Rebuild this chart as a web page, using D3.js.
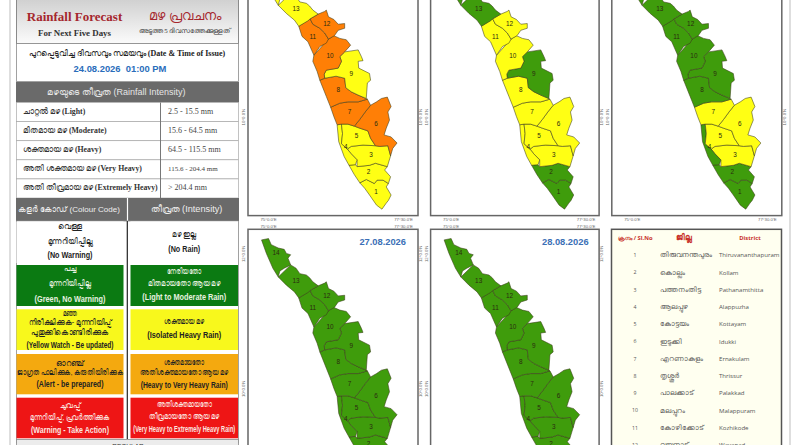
<!DOCTYPE html>
<html lang="ml">

<head>
    <meta charset="utf-8">
    <style>
        html, body { margin: 0; padding: 0; background: #fff; overflow: hidden; }
        svg { display: block; }
        .serif { font-family: 'Liberation Serif', 'DejaVu Serif', serif; }
        .sans { font-family: 'Liberation Sans', Arial, sans-serif; }
        .open { font-family: 'Open Sans', sans-serif; }
        .geo .domain { display: none; }
        .geo .tick text { font-family: 'Liberation Sans', sans-serif; font-size: 4.3px; fill: #666; }
    </style>
</head>

<body>
    <svg width="800" height="445" viewBox="0 0 800 445"></svg>
</body>

<script src="https://d3js.org/d3.v7.min.js"></script>

<script>
    // district numbers on the map, 1 to 14
    const districtNo = [1, 2, 3, 4, 5, 6, 7, 8, 9, 10, 11, 12, 13, 14]

    // alert level per district (index 0 = district 1), one list per map
    const day1Alert = ["Y", "Y", "Y", "Y", "Y", "O", "O", "O", "Y", "O", "O", "O", "Y", "Y"]
    const day2Alert = ["G", "G", "Y", "Y", "Y", "Y", "Y", "Y", "G", "Y", "Y", "Y", "G", "G"]
    const day3Alert = ["G", "G", "Y", "G", "Y", "Y", "Y", "G", "G", "G", "G", "G", "G", "G"]
    const day4Alert = ["G", "G", "G", "G", "G", "G", "G", "G", "G", "G", "G", "G", "G", "G"]
    const day5Alert = ["G", "G", "G", "G", "G", "G", "G", "G", "G", "G", "G", "G", "G", "G"]
    const dayDates = [null, null, null, "27.08.2026", "28.08.2026"]

    // district outlines, [lon, lat]
    const tvm = [[76.70, 9.02], [76.82, 9.07], [76.97, 9.01], [77.02, 9.06], [77.13, 9.06], [77.23, 9.01], [77.19, 8.96], [77.28, 8.84], [77.23, 8.76], [77.19, 8.72], [77.11, 8.63], [77.01, 8.69], [76.88, 8.84], [76.79, 8.94]]
    const kollam = [[76.50, 9.28], [76.62, 9.29], [76.65, 9.26], [76.88, 9.28], [76.99, 9.31], [77.21, 9.26], [77.16, 9.21], [77.27, 9.11], [77.23, 9.01], [77.13, 9.06], [77.02, 9.06], [76.97, 9.01], [76.82, 9.07], [76.70, 9.02], [76.60, 9.14]]
    const pathanam = [[76.47, 9.52], [76.54, 9.56], [76.76, 9.58], [76.99, 9.57], [77.07, 9.56], [77.22, 9.57], [77.27, 9.42], [77.21, 9.26], [76.99, 9.31], [76.88, 9.28], [76.65, 9.26], [76.65, 9.36], [76.54, 9.45]]
    const alappuzha = [[76.28, 9.88], [76.36, 9.89], [76.38, 9.75], [76.36, 9.60], [76.47, 9.52], [76.54, 9.45], [76.65, 9.36], [76.62, 9.29], [76.50, 9.28], [76.41, 9.41], [76.31, 9.63]]
    const kottayam = [[76.36, 9.89], [76.48, 9.89], [76.60, 9.86], [76.70, 9.83], [76.85, 9.79], [76.90, 9.68], [76.99, 9.57], [76.76, 9.58], [76.54, 9.56], [76.47, 9.52], [76.36, 9.60], [76.38, 9.75]]
    const idukki = [[76.90, 10.17], [77.01, 10.22], [77.10, 10.27], [77.21, 10.29], [77.28, 10.15], [77.22, 10.07], [77.25, 9.95], [77.19, 9.83], [77.15, 9.73], [77.28, 9.70], [77.39, 9.61], [77.31, 9.53], [77.27, 9.42], [77.22, 9.57], [77.07, 9.56], [76.99, 9.57], [76.90, 9.68], [76.85, 9.79], [76.70, 9.83], [76.60, 9.86], [76.70, 9.96], [76.80, 10.07]]
    const ernakulam = [[76.16, 10.14], [76.33, 10.20], [76.48, 10.22], [76.67, 10.22], [76.84, 10.26], [76.90, 10.17], [76.80, 10.07], [76.70, 9.96], [76.60, 9.86], [76.48, 9.89], [76.36, 9.89], [76.28, 9.88], [76.22, 10.00]]
    const thrissur = [[75.96, 10.54], [76.05, 10.57], [76.26, 10.60], [76.42, 10.57], [76.44, 10.43], [76.54, 10.37], [76.67, 10.32], [76.84, 10.26], [76.67, 10.22], [76.48, 10.22], [76.33, 10.20], [76.16, 10.14], [76.08, 10.30]]
    const palakkad = [[76.42, 10.96], [76.67, 10.99], [76.73, 10.89], [76.76, 10.83], [76.67, 10.82], [76.68, 10.72], [76.88, 10.64], [76.90, 10.54], [76.84, 10.50], [76.82, 10.27], [76.67, 10.32], [76.54, 10.37], [76.44, 10.43], [76.42, 10.57], [76.26, 10.60], [76.05, 10.57], [76.04, 10.63], [76.08, 10.69], [76.30, 10.72], [76.36, 10.82], [76.33, 10.89]]
    const malappuram = [[75.85, 10.91], [76.12, 11.15], [76.22, 11.20], [76.33, 11.16], [76.45, 11.14], [76.53, 11.06], [76.42, 10.96], [76.33, 10.89], [76.36, 10.82], [76.30, 10.72], [76.08, 10.69], [76.04, 10.63], [76.05, 10.57], [75.96, 10.54], [75.91, 10.67], [75.83, 10.82]]
    const kozhikode = [[75.57, 11.34], [75.78, 11.45], [75.83, 11.37], [75.96, 11.31], [76.05, 11.24], [76.12, 11.15], [76.08, 11.09], [75.96, 11.04], [75.85, 10.91], [75.74, 11.11], [75.63, 11.19]]
    const wayanad = [[75.78, 11.45], [75.93, 11.52], [76.05, 11.56], [76.08, 11.58], [76.12, 11.48], [76.22, 11.44], [76.30, 11.37], [76.42, 11.38], [76.42, 11.31], [76.30, 11.28], [76.23, 11.20], [76.12, 11.15], [76.05, 11.24], [75.96, 11.31], [75.83, 11.37]]
    const kannur = [[75.42, 11.83], [75.52, 11.78], [75.59, 11.70], [75.71, 11.68], [75.77, 11.64], [75.83, 11.58], [75.93, 11.52], [75.78, 11.45], [75.74, 11.42], [75.57, 11.34], [75.49, 11.43], [75.34, 11.53], [75.19, 11.65]]
    const kasaragod = [[74.88, 12.20], [75.01, 12.22], [75.06, 12.13], [75.19, 12.08], [75.30, 12.06], [75.34, 12.00], [75.42, 11.98], [75.37, 11.93], [75.42, 11.83], [75.30, 11.78], [75.22, 11.74], [75.19, 11.65], [75.09, 11.78], [74.97, 12.00]]

    // where each number is printed, [lon, lat]
    const districtLabelAt = [[77.00, 8.88], [76.86, 9.17], [76.91, 9.43], [76.44, 9.54], [76.64, 9.71], [77.00, 9.88], [76.51, 10.06], [76.30, 10.39], [76.54, 10.63], [76.15, 10.90], [75.83, 11.18], [76.09, 11.37], [75.52, 11.59], [75.15, 12.00]]

    // map sheet ticks
    const lonTicks = [75, 77.5]
    const latTicks = [10, 12]

    // table of intensity
    const intensityMl = ["ചാറ്റൽ മഴ", "മിതമായ മഴ", "ശക്തമായ മഴ", "അതി ശക്തമായ മഴ", "അതി തീവ്രമായ മഴ"]
    const intensityEn = ["(Light)", "(Moderate)", "(Heavy)", "(Very Heavy)", "(Extremely Heavy)"]
    const intensityRanges = ["2.5 - 15.5 mm", "15.6 - 64.5 mm", "64.5 - 115.5 mm", "115.6 - 204.4 mm", "> 204.4 mm"]

    // colour code cells
    const codeLeft = [
        ["വെള്ള", "മുന്നറിയിപ്പില്ല", "(No Warning)"],
        ["പച്ച", "മുന്നറിയിപ്പില്ല", "(Green, No Warning)"],
        ["മഞ്ഞ", "നിരീക്ഷിക്കുക- മുന്നറിയിപ്പ്", "പുതുക്കികൊണ്ടിരിക്കുക", "(Yellow Watch - Be updated)"],
        ["ഓറഞ്ച്", "ജാഗ്രത പാലിക്കുക, കരുതിയിരിക്കുക", "(Alert - be prepared)"],
        ["ചുവപ്പ്", "മുന്നറിയിപ്പ്, പ്രവർത്തിക്കുക", "(Warning - Take Action)"]
    ]
    const codeRight = [
        ["മഴ ഇല്ല", "(No Rain)"],
        ["നേരിയതോ", "മിതമായതോ ആയ മഴ", "(Light to Moderate Rain)"],
        ["ശക്തമായ മഴ", "(Isolated Heavy Rain)"],
        ["ശക്തമായതോ", "അതിശക്തമായതോ ആയ മഴ", "(Heavy to Very Heavy Rain)"],
        ["അതിശക്തമായതോ", "തീവ്രമായതോ ആയ മഴ", "(Very Heavy to Extremely Heavy Rain)"]
    ]
    const codeFill = ["#ffffff", "#0b7a12", "#f8f81c", "#f4a90f", "#ee1515"]
    const codeInk = ["#222222", "#e8f2e0", "#222222", "#222222", "#fbe6e0"]

    // district list
    const slNo = [1, 2, 3, 4, 5, 6, 7, 8, 9, 10, 11, 12]
    const districtMl = ["തിരുവനന്തപുരം", "കൊല്ലം", "പത്തനംതിട്ട", "ആലപ്പുഴ", "കോട്ടയം", "ഇടുക്കി", "എറണാകുളം", "തൃശ്ശൂർ", "പാലക്കാട്", "മലപ്പുറം", "കോഴിക്കോട്", "വയനാട്"]
    const districtEn = ["Thiruvananthapuram", "Kollam", "Pathanamthitta", "Alappuzha", "Kottayam", "Idukki", "Ernakulam", "Thrissur", "Palakkad", "Malappuram", "Kozhikode", "Wayanad"]

    let svg = d3.select("svg")

    // small helper for all the printed text
    function label(parent, x, y, str, cls, size, fill, weight, anchor) {
        return parent.append("text")
            .attr("class", cls)
            .attr("x", x)
            .attr("y", y)
            .attr("dominant-baseline", "middle")
            .attr("text-anchor", anchor || "middle")
            .style("font-size", size + "px")
            .style("font-weight", weight || "normal")
            .style("fill", fill)
            .text(str)
    }

    function box(parent, x, y, w, h, fill, stroke, sw) {
        return parent.append("rect")
            .attr("x", x).attr("y", y).attr("width", w).attr("height", h)
            .style("fill", fill)
            .style("stroke", stroke || "none")
            .style("stroke-width", sw || 0)
    }

    // malayalam part regular, english part in bold on the same line
    function mixed(parent, x, y, ml, en, cls, size, fill, anchor) {
        let t = label(parent, x, y, "", cls, size, fill, "normal", anchor)
        t.append("tspan").text(ml + " ")
        t.append("tspan").style("font-weight", "bold").text(en)
        return t
    }

    // ---------- left legend column ----------
    let left = svg.append("g").attr("class", "legend")

    left.append("line").attr("x1", 10).attr("x2", 10).attr("y1", 0).attr("y2", 445)
        .style("stroke", "#bdbdbd").style("stroke-width", 1)
    svg.append("line").attr("x1", 790).attr("x2", 790).attr("y1", 0).attr("y2", 445)
        .style("stroke", "#bdbdbd").style("stroke-width", 1)

    let defs = svg.append("defs")
    let grad = defs.append("linearGradient").attr("id", "head").attr("x1", 0).attr("x2", 0).attr("y1", 0).attr("y2", 1)
    grad.append("stop").attr("offset", "0%").attr("stop-color", "#cfcfcf")
    grad.append("stop").attr("offset", "100%").attr("stop-color", "#fbfbfb")

    box(left, 16.5, -2, 222, 45.5, "url(#head)", "#8a8a8a", 1)
    label(left, 74.5, 18, "Rainfall Forecast", "serif", 13, "#a5272d", "bold")
    label(left, 74.5, 33.7, "For Next Five Days", "serif", 8.9, "#333", "bold")
    label(left, 185, 17.5, "മഴ പ്രവചനം", "serif", 13, "#a5272d")
    label(left, 185, 31.5, "അടുത്ത 5 ദിവസത്തേക്കുള്ളത്", "serif", 6.9, "#333")

    box(left, 16.5, 43.5, 222, 38, "#fff", "#8a8a8a", 0.8)
    mixed(left, 127, 54, "പുറപ്പെടുവിച്ച ദിവസവും സമയവും", "(Date & Time of Issue)", "serif", 8, "#222")
    label(left, 120, 70, "24.08.2026  01:00 PM", "sans", 9.4, "#2a6dbb", "bold").style("white-space", "pre")

    box(left, 16, 82, 223, 20.5, "#6a6a6a")
    label(left, 116.5, 93, "മഴയുടെ തീവ്രത (Rainfall Intensity)", "sans", 9, "#e6e6e6")

    // intensity rows, the row height comes from the band scale
    let rowY = d3.scaleBand().domain(intensityMl).range([102.5, 198])
    intensityMl.forEach(function (name, i) {
        let yTop = rowY(name)
        box(left, 16.5, yTop, 222, rowY.bandwidth(), "#fff", "#a8a8a8", 0.7)
        mixed(left, 23, yTop + rowY.bandwidth() / 2, name, intensityEn[i], "serif", 7.8, "#333", "start")
        label(left, 168, yTop + rowY.bandwidth() / 2, intensityRanges[i], "serif", i == 3 ? 7 : 8, "#444", "normal", "start")
    })
    left.append("line").attr("x1", 160.5).attr("x2", 160.5).attr("y1", 102.5).attr("y2", 198)
        .style("stroke", "#777").style("stroke-width", 1)

    box(left, 16, 198, 223, 23, "#6a6a6a")
    left.append("line").attr("x1", 127.5).attr("x2", 127.5).attr("y1", 198).attr("y2", 221)
        .style("stroke", "#fff").style("stroke-width", 1.2)
    label(left, 69, 209.5, "കളർ കോഡ് (Colour Code)", "sans", 8, "#eee")
    label(left, 186.5, 209.5, "തീവ്രത (Intensity)", "sans", 9.2, "#eee")

    box(left, 16.5, 221, 222, 222, "#fff", "#8a8a8a", 0.8)

    // height of each colour cell and where each of its lines sits, width the line is set to
    const cellTop = [221.5, 265, 309.3, 354, 397.7]
    const cellBottom = [263, 306, 350, 394.3, 438.3]
    const leftLineY = [[227.3, 242, 255.3], [268.7, 284, 299.3], [314.3, 323.3, 333.3, 345], [364, 372.7, 384], [406, 418, 430.7]]
    const leftLineW = [[24, 45, 45], [13, 42, 71], [14, 83, 78, 87], [28, 106, 67], [21, 80, 78]]
    const rightLineY = [[235, 249], [271.7, 284, 297.3], [321.7, 335.7], [362.7, 372.7, 385], [405, 416.7, 429.3]]
    const rightLineW = [[24, 32], [34, 72, 84], [40, 74], [40, 88, 87], [55, 70, 102]]

    function codeCell(x, w, lines, ys, widths, i) {
        box(left, x, cellTop[i], w, cellBottom[i] - cellTop[i], codeFill[i])
        lines.forEach(function (txt, k) {
            let isEn = txt.startsWith("(")
            label(left, x + w / 2, ys[k], txt, isEn ? "sans" : "serif", isEn ? 9.6 : 8.2, codeInk[i], isEn ? "bold" : "normal")
                .attr("textLength", widths[k])
                .attr("lengthAdjust", "spacingAndGlyphs")
        })
    }
    codeLeft.forEach(function (lines, i) { codeCell(16.5, 107, lines, leftLineY[i], leftLineW[i], i) })
    codeRight.forEach(function (lines, i) { codeCell(130.5, 107.5, lines, rightLineY[i], rightLineW[i], i) })
    left.append("line").attr("x1", 127.3).attr("x2", 127.3).attr("y1", 221).attr("y2", 439)
        .style("stroke", "#222").style("stroke-width", 1.2)

    box(left, 16.5, 439.5, 222, 8, "#ececec", "#8a8a8a", 0.8)
    label(left, 128, 447, "REGULAR", "sans", 6.5, "#333")

    // ---------- five forecast maps ----------
    let districtShape = [tvm, kollam, pathanam, alappuzha, kottayam, idukki, ernakulam, thrissur, palakkad, malappuram, kozhikode, wayanad, kannur, kasaragod]
    let allDays = [day1Alert, day2Alert, day3Alert, day4Alert, day5Alert]

    let alertColor = d3.scaleOrdinal()
        .domain(["G", "Y", "O"])
        .range(["#3f9c0c", "#ffff14", "#ff7f06"])

    let frameH = 258

    let lonX = d3.scaleLinear().domain([75, 77.5]).range([20, 155])
    let latY = d3.scaleLinear().domain([10, 12]).range([159.1, 24.1])

    let outline = d3.line()
        .x(d => lonX(d[0]))
        .y(d => latY(d[1]))
        .curve(d3.curveLinearClosed)

    let panelX = [248, 430.6, 611.8, 248, 430.6]
    let panelY = [-42.4, -42.4, -42.4, 229.3, 229.3]
    let panelW = [170, 168.5, 170, 170, 168.5]

    // sheet graticule labels
    let fmtLon = d => {
        let deg = Math.floor(d)
        return `${deg}°${((d - deg) * 60).toFixed(1)}'E`
    }
    let fmtLat = d => `${d}°0.0'N`

    allDays.forEach(function (alerts, p) {
        let top = panelY[p]
        let frameW = panelW[p]
        let panel = svg.append("g")
            .attr("class", "panel")
            .attr("transform", `translate(${panelX[p]},${top})`)

        panel.append("rect")
            .attr("width", frameW)
            .attr("height", frameH)
            .style("fill", "#fff")
            .style("stroke", "#666")
            .style("stroke-width", 1.5)

        panel.append("g").selectAll("path")
            .data(districtNo)
            .join("path")
            .attr("d", d => outline(districtShape[d - 1]))
            .style("fill", d => alertColor(alerts[d - 1]))
            .style("stroke", "#3a3a1a")
            .style("stroke-width", 0.55)
            .style("stroke-linejoin", "round")

        // only numbers that land inside the window
        let shownNo = districtNo.filter(function (d) {
            let yy = top + latY(districtLabelAt[d - 1][1])
            return yy > 2 && yy < 446
        })

        panel.append("g").selectAll("text")
            .data(shownNo)
            .join("text")
            .attr("x", d => lonX(districtLabelAt[d - 1][0]))
            .attr("y", d => latY(districtLabelAt[d - 1][1]))
            .attr("dominant-baseline", "middle")
            .attr("text-anchor", "middle")
            .attr("class", "sans")
            .style("font-size", "6.4px")
            .style("fill", "#2b2b10")
            .text(d => d)

        if (dayDates[p]) {
            label(panel, 134.7, 13, dayDates[p], "sans", 9.3, "#3b6fb6", "bold")
        }

        // top row shows its bottom ticks, lower row its top ticks
        if (top + frameH < 445) {
            panel.append("g").attr("class", "geo")
                .attr("transform", `translate(0,${frameH})`)
                .call(d3.axisBottom(lonX).tickValues(lonTicks).tickSize(0).tickPadding(2).tickFormat(fmtLon))
        }
        if (top > 0) {
            panel.append("g").attr("class", "geo")
                .call(d3.axisTop(lonX).tickValues(lonTicks).tickSize(0).tickPadding(1.5).tickFormat(fmtLon))
        }

        let shownLat = latTicks.filter(d => top + latY(d) > 10)
        panel.append("g").attr("class", "geo")
            .call(d3.axisLeft(latY).tickValues(shownLat).tickSize(0).tickFormat(fmtLat))
            .selectAll(".tick text")
            .attr("text-anchor", "middle")
            .attr("transform", "translate(-3,0) rotate(-90)")
            .attr("x", 0).attr("dy", 0)
        panel.append("g").attr("class", "geo")
            .attr("transform", `translate(${frameW},0)`)
            .call(d3.axisRight(latY).tickValues(shownLat).tickSize(0).tickFormat(fmtLat))
            .selectAll(".tick text")
            .attr("text-anchor", "middle")
            .attr("transform", "translate(4,0) rotate(-90)")
            .attr("x", 0).attr("dy", 0)
    })

    // ---------- district list bottom right ----------
    let list = svg.append("g").attr("class", "list").attr("transform", "translate(611.5,229.3)")
    list.append("rect")
        .attr("width", 170).attr("height", 258)
        .style("fill", "#fffff0")
        .style("stroke", "#555")
        .style("stroke-width", 1.5)

    label(list, 23.5, 9, "ക്ര.നം / Sl.No", "open", 5.8, "#c8322b", "bold")
    label(list, 72.5, 9, "ജില്ല", "serif", 8, "#c8322b", "bold")
    label(list, 138.5, 9, "District", "open", 5.8, "#c8322b", "bold")

    let listY = d3.scalePoint().domain(slNo).range([26.4, 26.4 + 17.25 * 11])
    slNo.forEach(function (n, i) {
        label(list, 23.5, listY(n), n, "open", 5.2, "#555")
        label(list, 48.5, listY(n), districtMl[i], "serif", 7.2, "#555", "normal", "start")
        label(list, 107.5, listY(n), districtEn[i], "open", 6.1, "#555", "normal", "start")
    })
</script>

</html>
